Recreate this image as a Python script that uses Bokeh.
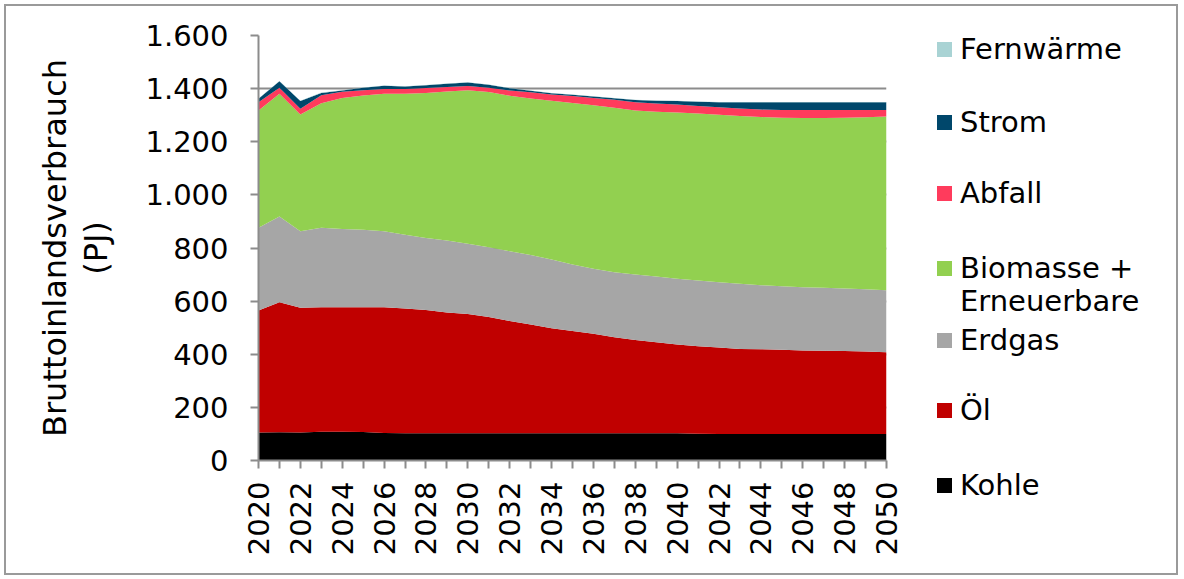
import math
from bokeh.plotting import figure
from bokeh.layouts import row
from bokeh.models import Range1d, FixedTicker, ColumnDataSource, Div
from bokeh.embed import file_html
from bokeh.resources import INLINE

years = list(range(2020, 2051))
kohle = [105, 106, 105, 108, 108, 107, 104, 103, 103, 103,
         103, 103, 103, 103, 103, 103, 103, 103, 103, 103,
         103, 101, 100, 100, 100, 100, 100, 100, 100, 100, 100]
oel = [460, 490, 470, 469, 469, 470, 473, 469, 464, 454,
       449, 437, 422, 409, 395, 385, 374, 361, 351, 342,
       334, 329, 325, 320, 319, 317, 314, 313, 312, 310, 308]
erdgas = [311, 323, 288, 299, 295, 292, 286, 278, 271, 271,
          264, 263, 263, 262, 259, 250, 245, 245, 246, 248,
          247, 248, 246, 245, 241, 239, 238, 237, 236, 235, 233]
biomasse = [442, 462, 440, 469, 493, 505, 518, 531, 546, 561,
            578, 584, 585, 589, 597, 608, 615, 619, 618, 620,
            626, 628, 631, 632, 633, 634, 637, 639, 642, 647, 654]
abfall = [31, 22, 21, 30, 23, 20, 18, 18, 18, 17,
          16, 16, 20, 23, 24, 26, 28, 30, 31, 31,
          30, 29, 28, 28, 28, 30, 31, 31, 30, 28, 25]
strom = [13, 25, 29, 9, 5, 9, 12, 9, 11, 12,
         13, 12, 8, 6, 5, 5, 5, 6, 8, 10,
         13, 16, 19, 24, 28, 29, 29, 29, 29, 29, 29]
fernwaerme = [1, 1, 1, 1, 1, 1, 1, 1, 1, 1,
              1, 1, 1, 1, 1, 1, 1, 1, 1, 1,
              1, 1, 1, 1, 1, 1, 1, 1, 1, 1, 1]

names = ["kohle", "oel", "erdgas", "biomasse", "abfall", "strom", "fernwaerme"]
labels = ["Kohle", "Öl", "Erdgas", "Biomasse +\nErneuerbare", "Abfall", "Strom", "Fernwärme"]
colors = ["#000000", "#C00000", "#A6A6A6", "#92D050", "#FF3B5C", "#00476B", "#A9D3D4"]

src = ColumnDataSource(dict(year=years, kohle=kohle, oel=oel, erdgas=erdgas,
                            biomasse=biomasse, abfall=abfall, strom=strom,
                            fernwaerme=fernwaerme))

p = figure(width=916, height=578, x_range=Range1d(2020, 2050), y_range=Range1d(0, 1600),
           output_backend="svg", toolbar_location=None,
           min_border_left=258, min_border_right=30, min_border_top=35, min_border_bottom=118)

rs = p.varea_stack(stackers=names, x="year", color=colors, source=src)

grey = "#8c8c8c"
FONT = "DejaVu Sans"
for ax in (p.xaxis, p.yaxis):
    ax.axis_line_color = grey
    ax.axis_line_width = 2
    ax.major_tick_line_color = grey
    ax.major_tick_line_width = 2
    ax.major_tick_out = 8
    ax.major_tick_in = 0
    ax.major_label_text_font = FONT
    ax.major_label_text_font_size = "29px"
    ax.major_label_text_color = "#000000"

p.xaxis.ticker = FixedTicker(ticks=list(range(2020, 2051, 2)),
                             minor_ticks=list(range(2021, 2050, 2)))
p.xaxis.minor_tick_line_color = grey
p.xaxis.minor_tick_line_width = 2
p.xaxis.minor_tick_out = 8
p.xaxis.minor_tick_in = 0
p.xaxis.major_label_orientation = math.pi / 2
p.xaxis.major_label_standoff = 13

p.yaxis.ticker = FixedTicker(ticks=list(range(0, 1601, 200)))
p.yaxis.minor_tick_line_color = None
p.yaxis.major_label_overrides = {1000: "1.000", 1200: "1.200", 1400: "1.400", 1600: "1.600"}
p.yaxis.major_label_standoff = 22
p.yaxis.axis_label = "Bruttoinlandsverbrauch\n(PJ)"
p.yaxis.axis_label_text_font = FONT
p.yaxis.axis_label_text_font_size = "32px"
p.yaxis.axis_label_text_line_height = 1.1
p.yaxis.axis_label_text_font_style = "normal"
p.yaxis.axis_label_text_color = "#000000"
p.yaxis.axis_label_standoff = 27

p.xgrid.grid_line_color = None
p.ygrid.grid_line_color = grey
p.ygrid.grid_line_width = 2
p.outline_line_color = None

# legend panel (HTML), entries from top: Fernwärme ... Kohle
entry_centers = [49, 122, 193, 268, 340, 410, 485]   # layout: vertical centre of each entry (px)
LINE_H = 33
parts = ['<div style="position:relative;width:266px;height:578px;">']
# chart frame border spanning the whole chart (drawn over the plot's white margin)
parts.append('<div style="position:absolute;left:-912px;top:4px;width:1174px;height:571px;'
             'border:2px solid #9a9a9a;box-sizing:border-box;pointer-events:none;"></div>')
for k, i in enumerate(reversed(range(len(names)))):
    cy = entry_centers[k]
    parts.append(
        f'<div style="position:absolute;left:21px;top:{cy - 7}px;width:15px;height:15px;'
        f'background:{colors[i]};"></div>')
    text = labels[i].replace("\n", "<br>")
    parts.append(
        f'<div style="position:absolute;left:44px;top:{cy - LINE_H / 2}px;'
        f'font-family:\'{FONT}\';font-size:29px;line-height:{LINE_H}px;color:#000;'
        f'white-space:nowrap;">{text}</div>')
parts.append('</div>')
legend_div = Div(text="".join(parts), width=266, height=578, margin=(0, 0, 0, 0))

layout = row(p, legend_div)

open("out.html", "w").write(file_html(layout, INLINE))
